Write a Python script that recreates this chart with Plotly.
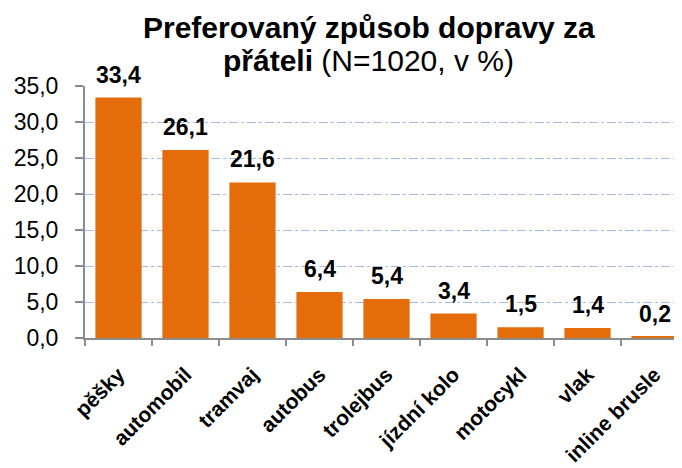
import plotly.graph_objects as go

categories = ["pěšky", "automobil", "tramvaj", "autobus", "trolejbus",
              "jízdní kolo", "motocykl", "vlak", "inline brusle"]
values = [33.4, 26.1, 21.6, 6.4, 5.4, 3.4, 1.5, 1.4, 0.2]
y_ticks = [0, 5, 10, 15, 20, 25, 30, 35]

FONT = "Liberation Sans, Arial, sans-serif"
ORANGE = "#E46C0A"
AXIS_GRAY = "#8C8C8C"
GRID_BLUE = "#A4BCE6"

fig = go.Figure()
fig.add_trace(go.Bar(
    x=categories, y=values,
    marker=dict(color=ORANGE, line=dict(width=0)),
    width=0.69,
    hoverinfo="skip",
))

annotations = []
for c, v in zip(categories, values):
    annotations.append(dict(
        x=c, y=v, xref="x", yref="y",
        text=f"<b>{v:.1f}</b>".replace(".", ","),
        showarrow=False, yanchor="bottom", yshift=8,
        font=dict(family=FONT, size=23, color="black"),
    ))

annotations.append(dict(
    x=0.475, y=1.234, xref="paper", yref="paper",
    text="<b>Preferovaný způsob dopravy za</b>",
    showarrow=False, xanchor="center", yanchor="middle",
    font=dict(family=FONT, size=30, color="black"),
))
annotations.append(dict(
    x=0.475, y=1.103, xref="paper", yref="paper",
    text="<b>přáteli</b> (N=1020, v %)",
    showarrow=False, xanchor="center", yanchor="middle",
    font=dict(family=FONT, size=30, color="black"),
))

# page body has an 8px margin: size the figure so the plot lands where the reference has it
fig.update_layout(
    width=674, height=460,
    margin=dict(l=77, r=0, t=78, b=130),
    paper_bgcolor="white", plot_bgcolor="white",
    separators=", ",
    showlegend=False,
    font=dict(family=FONT, color="black"),
    annotations=annotations,
)

fig.update_xaxes(
    range=[-0.5, 8.41],
    automargin=False,
    showline=True, linecolor=AXIS_GRAY, linewidth=2,
    ticks="outside", tickson="boundaries", ticklen=6, tickcolor=AXIS_GRAY, tickwidth=1.5,
    tickangle=-45,
    tickfont=dict(family=FONT, size=21, color="black", weight="bold"),
    ticklabelstandoff=14,
    showgrid=False, zeroline=False,
)

fig.update_yaxes(
    range=[0, 35],
    automargin=False,
    tickvals=y_ticks, tickformat=".1f",
    showline=True, linecolor=AXIS_GRAY, linewidth=2,
    ticks="outside", ticklen=8, tickcolor=AXIS_GRAY, tickwidth=1.5,
    tickfont=dict(family=FONT, size=23, color="black"),
    ticklabelstandoff=12,
    showgrid=True, gridcolor=GRID_BLUE, gridwidth=1, griddash="dashdot",
    zeroline=False,
)

fig.write_html("out.html")
